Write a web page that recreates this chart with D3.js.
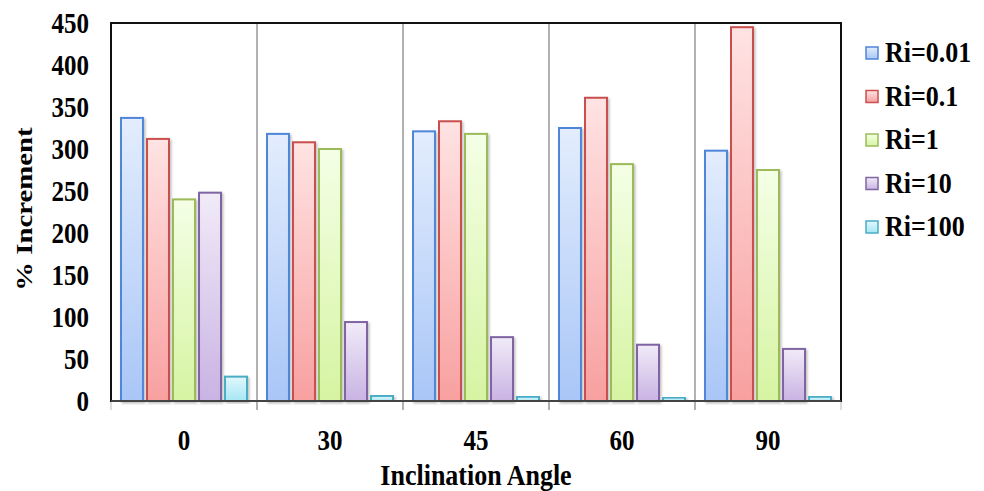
<!DOCTYPE html>
<html>
<head>
<meta charset="utf-8">
<script src="https://cdn.jsdelivr.net/npm/d3@7"></script>
<style>
  body { margin: 0; background: #fff; }
  text { font-family: "Liberation Serif", "Times New Roman", serif; font-weight: bold; fill: #000; }
</style>
</head>
<body>
<div id="chart"></div>
<script>
// data
var angles = ["0", "30", "45", "60", "90"];
var seriesNames = ["Ri=0.01", "Ri=0.1", "Ri=1", "Ri=10", "Ri=100"];
var ri001 = [337, 318, 321, 325, 298];
var ri01  = [312, 308, 333, 361, 445];
var ri1   = [240, 300, 318, 282, 275];
var ri10  = [248, 94, 76, 67, 62];
var ri100 = [29, 6, 5, 4, 5];
var yTicks = [0, 50, 100, 150, 200, 250, 300, 350, 400, 450];

var allSeries = [ri001, ri01, ri1, ri10, ri100];
var strokes = ["#4f86d8", "#c9504f", "#9bbb59", "#8064a2", "#4bacc6"];
var topCols = ["#e3edfd", "#ffe3e3", "#f4ffe6", "#f1ebf8", "#e2f8fc"];
var botCols = ["#a9c6f7", "#f8a0a0", "#d6f4a2", "#c9b3e3", "#a6e6f4"];

var stretch = 1.15; // the text in the picture is a little taller than wide

var margin = {top: 23, right: 143, bottom: 90, left: 111},
    width = 984 - margin.left - margin.right,
    height = 491 - margin.top - margin.bottom;

var svg = d3.select("#chart")
  .append("svg")
    .attr("width", 984)
    .attr("height", 491);

var defs = svg.append("defs");
seriesNames.forEach(function(s, i) {
  var g = defs.append("linearGradient")
    .attr("id", "grad" + i)
    .attr("x1", 0).attr("y1", 0).attr("x2", 0).attr("y2", 1);
  g.append("stop").attr("offset", "0%").attr("stop-color", topCols[i]);
  g.append("stop").attr("offset", "100%").attr("stop-color", botCols[i]);
});
var shadow = defs.append("filter").attr("id", "shadow")
  .attr("x", "-20%").attr("y", "-5%").attr("width", "150%").attr("height", "115%");
shadow.append("feDropShadow")
  .attr("dx", 1.5).attr("dy", 1.5).attr("stdDeviation", 1.2)
  .attr("flood-color", "#000").attr("flood-opacity", 0.25);

var chart = svg.append("g")
  .attr("transform", "translate(" + margin.left + "," + margin.top + ")");

var x0 = d3.scaleBand()
  .domain(angles)
  .range([0, width]);

var x1 = d3.scaleBand()
  .domain(d3.range(seriesNames.length))
  .range([10, x0.bandwidth() - 10])
  .paddingInner(0.155);

var y = d3.scaleLinear()
  .domain([0, 450])
  .range([height, 0]);

// category separators
chart.selectAll(".sep")
  .data(angles.slice(1))
  .enter()
  .append("line")
    .attr("x1", function(d) { return x0(d); })
    .attr("x2", function(d) { return x0(d); })
    .attr("y1", 0)
    .attr("y2", height + 9)
    .attr("stroke", "#999")
    .attr("stroke-width", 1.5);
chart.append("line")
  .attr("x1", 0).attr("x2", 0)
  .attr("y1", height).attr("y2", height + 9)
  .attr("stroke", "#bbb");
chart.append("line")
  .attr("x1", width).attr("x2", width)
  .attr("y1", height).attr("y2", height + 9)
  .attr("stroke", "#bbb");

// bars
var groups = chart.selectAll(".grp")
  .data(angles)
  .enter()
  .append("g")
    .attr("transform", function(d) { return "translate(" + x0(d) + ",0)"; });

groups.selectAll("rect")
  .data(function(d, j) { return allSeries.map(function(s, i) { return {i: i, v: s[j]}; }); })
  .enter()
  .append("rect")
    .attr("x", function(d) { return x1(d.i); })
    .attr("width", x1.bandwidth())
    .attr("y", function(d) { return y(d.v); })
    .attr("height", function(d) { return height - y(d.v); })
    .attr("fill", function(d) { return "url(#grad" + d.i + ")"; })
    .attr("stroke", function(d) { return strokes[d.i]; })
    .attr("stroke-width", 2)
    .attr("filter", "url(#shadow)");

// frame
chart.append("rect")
  .attr("x", 0).attr("y", 0)
  .attr("width", width).attr("height", height)
  .attr("fill", "none")
  .attr("stroke", "#111")
  .attr("stroke-width", 2);
chart.append("line")
  .attr("x1", 0).attr("x2", width)
  .attr("y1", height).attr("y2", height)
  .attr("stroke", "#444")
  .attr("stroke-width", 2);

// Y axis labels
var yAxis = chart.append("g")
  .call(d3.axisLeft(y).tickValues(yTicks).tickSize(0).tickPadding(22));
yAxis.select(".domain").remove();
yAxis.selectAll("text")
  .style("font-size", "25px")
  .attr("fill", "#000")
  .attr("x", null)
  .attr("dy", "0.34em")
  .attr("transform", "translate(-22,0)scale(1," + stretch + ")");

// X axis labels
var xAxis = chart.append("g")
  .attr("transform", "translate(0," + height + ")")
  .call(d3.axisBottom(x0).tickSize(0));
xAxis.select(".domain").remove();
xAxis.selectAll("text")
  .style("font-size", "25px")
  .attr("fill", "#000")
  .attr("y", null)
  .attr("dy", null)
  .attr("transform", "translate(0,49)scale(1," + stretch + ")");

// axis titles
svg.append("text")
  .attr("transform", "translate(" + (margin.left + width / 2) + ",485)scale(1," + stretch + ")")
  .attr("text-anchor", "middle")
  .style("font-size", "26px")
  .text("Inclination Angle");

svg.append("text")
  .attr("transform", "translate(32," + 209 + ")rotate(-90)scale(1.2,1)")
  .attr("text-anchor", "middle")
  .style("font-size", "24px")
  .text("% Increment");

// legend
var legend = svg.append("g")
  .attr("transform", "translate(866,47)");
var items = legend.selectAll(".item")
  .data(seriesNames)
  .enter()
  .append("g")
    .attr("transform", function(d, i) { return "translate(0," + (i * 43.5) + ")"; });
items.append("rect")
  .attr("x", 0).attr("y", 0)
  .attr("width", 12).attr("height", 12)
  .attr("fill", function(d, i) { return "url(#grad" + i + ")"; })
  .attr("stroke", function(d, i) { return strokes[i]; })
  .attr("stroke-width", 1.5);
items.append("text")
  .attr("transform", "translate(19,15)scale(1," + stretch + ")")
  .style("font-size", "26px")
  .text(function(d) { return d; });
</script>
</body>
</html>
